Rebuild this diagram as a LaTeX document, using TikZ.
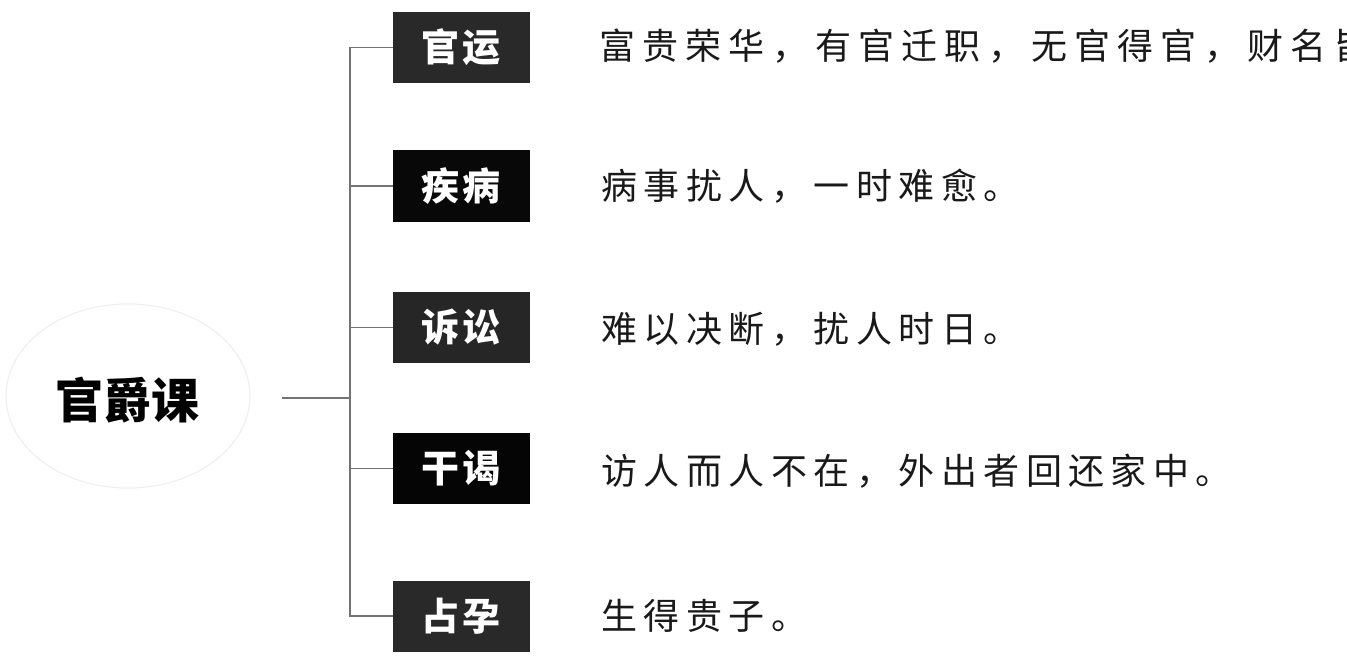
\documentclass[tikz,border=0pt]{standalone}
\usepackage{fontspec}
\newfontfamily\cjk{Noto Sans CJK SC}
\newfontfamily\cjkls[LetterSpace=18]{Noto Sans CJK SC}
\newfontfamily\cjklsw[LetterSpace=20]{Noto Sans CJK SC}
\newfontfamily\cjkbox[LetterSpace=8]{Noto Sans CJK SC}
\begin{document}
\begin{tikzpicture}[x=1pt,y=-1pt,
  conn/.style={draw=black!55,line width=1.5pt},
  catbox/.style={minimum width=137pt,minimum height=71pt,inner sep=0pt,
    text=white,font=\cjkbox\bfseries\fontsize{38}{40}\selectfont},
  desc/.style={anchor=west,inner sep=0pt,text=black!90,
    font=\cjkls\fontsize{36}{40}\selectfont},
  rootnode/.style={inner sep=0pt,font=\cjk\bfseries\fontsize{48}{50}\selectfont}]
\useasboundingbox (0,0) rectangle (1347,666);
\clip (0,0) rectangle (1347,666);
\fill[white] (0,0) rectangle (1347,666);
% faint halo around root
\draw[black!6,line width=1.2pt] (128,396) ellipse [x radius=122pt,y radius=92pt];
\node[rootnode] (root) at (127,400) {官爵课};
\coordinate (rootout) at (282,398);
\coordinate (tr) at (350,0);
% category boxes
\node[catbox,fill=black!84] (b1) at (461.5,47.5) {官运};
\node[catbox,fill=black!97] (b2) at (461.5,186) {疾病};
\node[catbox,fill=black!85] (b3) at (461.5,327.5) {诉讼};
\node[catbox,fill=black!98] (b4) at (461.5,468.5) {干谒};
\node[catbox,fill=black!84] (b5) at (461.5,616) {占孕};
% connectors
\draw[conn] (rootout) -- (rootout -| tr);
\draw[conn] (b1.west) -- (b1.west -| tr) -- (b5.west -| tr) -- (b5.west);
\draw[conn] (b2.west) -- (b2.west -| tr);
\draw[conn] (b3.west) -- (b3.west -| tr);
\draw[conn] (b4.west) -- (b4.west -| tr);
% descriptions
\node[desc,font=\cjklsw\fontsize{36}{40}\selectfont] (d1) at (599,46) {富贵荣华，有官迁职，无官得官，财名皆};
\node[desc] (d2) at (601,186) {病事扰人，一时难愈。};
\node[desc] (d3) at (601,329) {难以决断，扰人时日。};
\node[desc] (d4) at (601,471) {访人而人不在，外出者回还家中。};
\node[desc] (d5) at (601,616) {生得贵子。};
\end{tikzpicture}
\end{document}
